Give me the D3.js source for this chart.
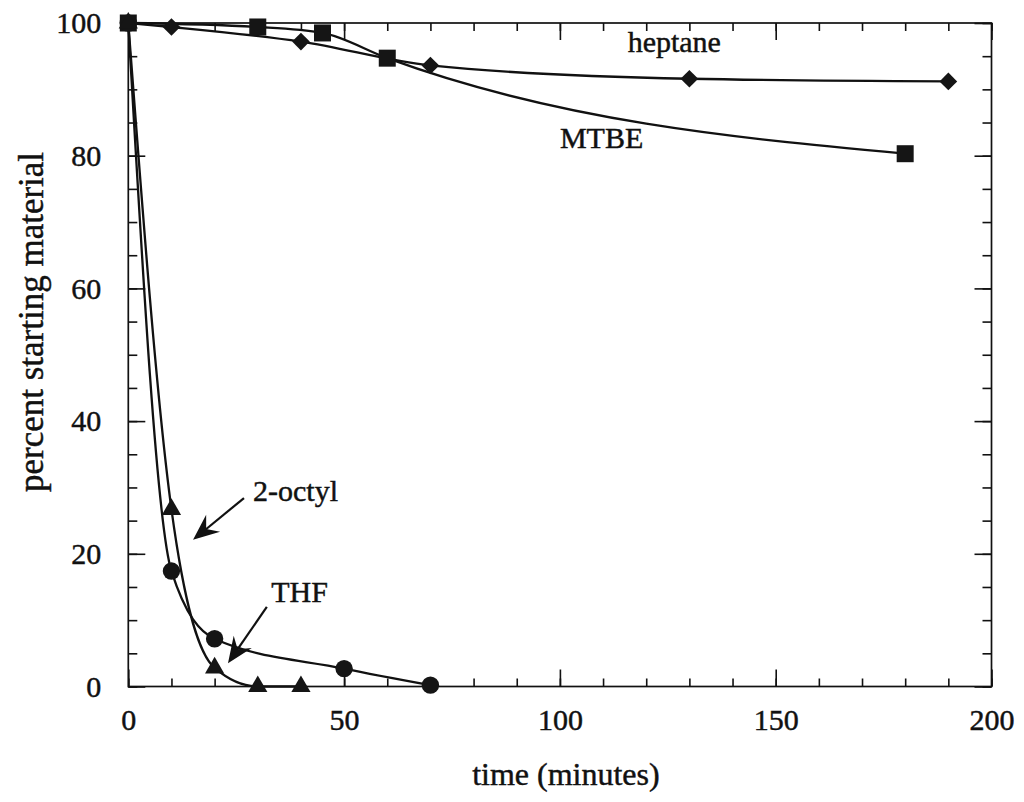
<!DOCTYPE html>
<html>
<head>
<meta charset="utf-8">
<script src="https://cdn.jsdelivr.net/npm/d3@7"></script>
<style>
  html, body { margin: 0; padding: 0; background: #fff; }
  svg { display: block; }
  text { font-family: "Liberation Serif", "Times New Roman", serif; fill: #111; stroke: #111; stroke-width: 0.45px; }
</style>
</head>
<body>
<svg id="chart" width="1024" height="802"></svg>
<script>
// Reaction time in minutes for each solvent run
const heptaneTime = [0, 10, 40, 70, 130, 190];
const heptaneValue = [100, 99.4, 97.2, 93.6, 91.6, 91.2];

const mtbeTime = [0, 30, 45, 60, 180];
const mtbeValue = [100, 99.4, 98.5, 94.7, 80.3];

const thfTime = [0, 10, 20, 50, 70];
const thfValue = [100, 17.4, 7.2, 2.7, 0.2];

const octylTime = [0, 10, 20, 30, 40];
const octylValue = [100, 26.7, 2.8, 0, 0];

// Axis ticks
const xMajorTicks = [0, 50, 100, 150, 200];
const xMinorTicks = d3.range(0, 201, 10);
const yMajorTicks = [0, 20, 40, 60, 80, 100];
const yMinorTicks = d3.range(0, 101, 5);

// Text labels and arrows (in data units)
const seriesLabels = [
  { text: "heptane", t: 115.7, v: 95.6 },
  { text: "MTBE", t: 100.0, v: 81.2 },
  { text: "2-octyl", t: 28.9, v: 28.0 },
  { text: "THF", t: 33.1, v: 12.7 }
];
const arrows = [
  { t0: 26.8, v0: 28.4, t1: 15.0, v1: 22.1 },
  { t0: 32.1, v0: 12.0, t1: 23.1, v1: 3.5 }
];

const svg = d3.select("#chart");
const plotLeft = 128.3, plotRight = 991.5, plotTop = 23, plotBottom = 686.5;

const x = d3.scaleLinear().domain([0, 200]).range([plotLeft, plotRight]);
const y = d3.scaleLinear().domain([0, 100]).range([plotBottom, plotTop]);

const ink = "#111";
const fontSize = 30;

// Frame
svg.append("rect")
  .attr("x", plotLeft).attr("y", plotTop)
  .attr("width", plotRight - plotLeft).attr("height", plotBottom - plotTop)
  .attr("fill", "none").attr("stroke", ink).attr("stroke-width", 1.7);

function styleAxis(g) {
  g.select(".domain").remove();
  g.selectAll(".tick line").attr("stroke", ink).attr("stroke-width", 1.6);
  g.selectAll(".tick text").attr("font-size", fontSize)
    .style("font-family", "'Liberation Serif', 'Times New Roman', serif").attr("fill", ink);
}

// Bottom axis: minor and major ticks pointing inward, labels on majors
svg.append("g").attr("transform", `translate(0,${plotBottom})`)
  .call(d3.axisBottom(x).tickValues(xMinorTicks).tickSize(-8).tickFormat(""))
  .call(styleAxis);
svg.append("g").attr("transform", `translate(0,${plotBottom})`)
  .call(d3.axisBottom(x).tickValues(xMajorTicks).tickSize(-17).tickPadding(22).tickFormat(d3.format("d")))
  .call(styleAxis);

// Top axis: inward ticks only
svg.append("g").attr("transform", `translate(0,${plotTop})`)
  .call(d3.axisTop(x).tickValues(xMinorTicks).tickSize(-8).tickFormat(""))
  .call(styleAxis);
svg.append("g").attr("transform", `translate(0,${plotTop})`)
  .call(d3.axisTop(x).tickValues(xMajorTicks).tickSize(-17).tickFormat(""))
  .call(styleAxis);

// Left axis
svg.append("g").attr("transform", `translate(${plotLeft},0)`)
  .call(d3.axisLeft(y).tickValues(yMinorTicks).tickSize(-9).tickFormat(""))
  .call(styleAxis);
svg.append("g").attr("transform", `translate(${plotLeft},0)`)
  .call(d3.axisLeft(y).tickValues(yMajorTicks).tickSize(-17).tickPadding(27).tickFormat(d3.format("d")))
  .call(styleAxis);

// Right axis
svg.append("g").attr("transform", `translate(${plotRight},0)`)
  .call(d3.axisRight(y).tickValues(yMinorTicks).tickSize(-9).tickFormat(""))
  .call(styleAxis);
svg.append("g").attr("transform", `translate(${plotRight},0)`)
  .call(d3.axisRight(y).tickValues(yMajorTicks).tickSize(-17).tickFormat(""))
  .call(styleAxis);

// Axis titles
svg.append("text")
  .attr("x", (plotLeft + plotRight) / 2 + 6).attr("y", 785)
  .attr("text-anchor", "middle").attr("font-size", 32)
  .text("time (minutes)");

svg.append("text")
  .attr("transform", `translate(43,322) rotate(-90)`)
  .attr("text-anchor", "middle").attr("font-size", 35)
  .text("percent starting material");

// Series
const series = [
  { t: heptaneTime, v: heptaneValue, marker: "diamond" },
  { t: mtbeTime, v: mtbeValue, marker: "square" },
  { t: thfTime, v: thfValue, marker: "circle" },
  { t: octylTime, v: octylValue, marker: "triangle" }
];

const line = d3.line()
  .x(d => x(d[0]))
  .y(d => y(d[1]))
  .curve(d3.curveMonotoneX);

const curves = svg.append("g");
series.forEach(s => {
  const pts = s.t.map((t, i) => [t, s.v[i]]);
  curves.append("path")
    .attr("d", line(pts))
    .attr("fill", "none")
    .attr("stroke", ink)
    .attr("stroke-width", 2.3)
    .attr("stroke-linejoin", "round");
});

const symbolFor = {
  square: d3.symbol(d3.symbolSquare, 17 * 17),
  diamond: d3.symbol(d3.symbolSquare, 12.5 * 12.5),
  circle: d3.symbol(d3.symbolCircle, Math.PI * 8.7 * 8.7),
  triangle: d3.symbol(d3.symbolTriangle, 160)
};

const marks = svg.append("g");
series.forEach(s => {
  const rot = s.marker === "diamond" ? 45 : 0;
  marks.selectAll(null)
    .data(s.t.map((t, i) => [t, s.v[i]]))
    .join("path")
    .attr("d", symbolFor[s.marker]())
    .attr("transform", d => `translate(${x(d[0])},${y(d[1])}) rotate(${rot})`)
    .attr("fill", "#151515");
});

// Series labels
svg.append("g").selectAll("text")
  .data(seriesLabels)
  .join("text")
  .attr("x", d => x(d.t))
  .attr("y", d => y(d.v))
  .attr("font-size", fontSize)
  .text(d => d.text);

// Arrows with notched heads
const arrowG = svg.append("g");
arrows.forEach(a => {
  const x0 = x(a.t0), y0 = y(a.v0), x1 = x(a.t1), y1 = y(a.v1);
  const ang = Math.atan2(y1 - y0, x1 - x0) * 180 / Math.PI;
  arrowG.append("line")
    .attr("x1", x0).attr("y1", y0)
    .attr("x2", x1 - (x1 - x0) * 0.2).attr("y2", y1 - (y1 - y0) * 0.2)
    .attr("stroke", ink).attr("stroke-width", 2.2);
  arrowG.append("path")
    .attr("d", "M0,0 L-26,-11 L-17,0 L-26,11 Z")
    .attr("transform", `translate(${x1},${y1}) rotate(${ang})`)
    .attr("fill", ink);
});
</script>
</body>
</html>
